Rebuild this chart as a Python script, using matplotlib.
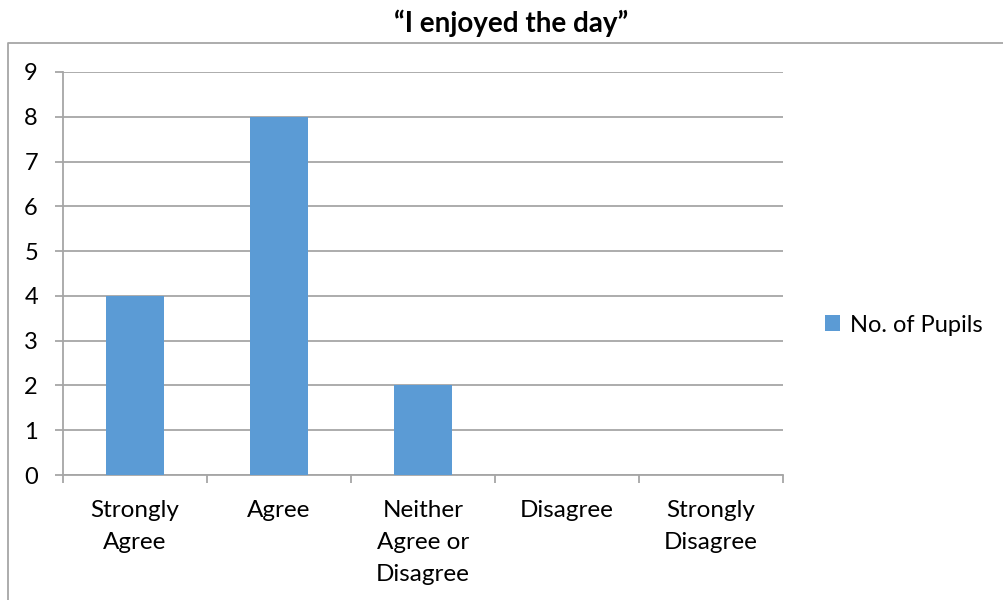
import numpy as np
import matplotlib.pyplot as plt
import matplotlib.ticker as mticker
from matplotlib.lines import Line2D

# survey answers and counts
categories = ["Strongly\nAgree", "Agree", "Neither\nAgree or\nDisagree",
              "Disagree", "Strongly\nDisagree"]
pupils = [4, 8, 2, 0, 0]
y_ticks = list(range(0, 10))
series_name = "No. of Pupils"
title = "\u201cI enjoyed the day\u201d"

bar_color = "#5B9BD5"
grid_color = "#A6A6A6"

plt.rcParams["font.family"] = ["Lato", "DejaVu Sans"]

fig = plt.figure(figsize=(10.04, 6.0), dpi=100)
ax = fig.add_axes([63 / 1004, 125 / 600, 720 / 1004, 403 / 600])

# the bars, Excel style gap width 150%
x = np.arange(len(categories))
ax.bar(x, pupils, width=0.4, color=bar_color, label=series_name, zorder=3)

ax.set_xlim(-0.5, len(categories) - 0.5)
ax.set_ylim(0, 9)
ax.set_yticks(y_ticks)
ax.yaxis.grid(True, color=grid_color, linewidth=1.3, zorder=0)

# labels at centres, tick marks at category boundaries
ax.set_xticks(x)
ax.set_xticklabels(categories, fontsize=17.5, linespacing=1.66, va="top")
ax.xaxis.set_minor_locator(mticker.FixedLocator(np.arange(-0.5, len(categories), 1.0)))
ax.tick_params(axis="x", which="major", length=0, pad=18)
ax.tick_params(axis="x", which="minor", length=6, width=1.3, color=grid_color)
ax.tick_params(axis="y", length=6, width=1.3, color=grid_color, labelsize=17, pad=12)

for side in ["top", "right"]:
    ax.spines[side].set_visible(False)
for side in ["left", "bottom"]:
    ax.spines[side].set_color(grid_color)
    ax.spines[side].set_linewidth(1.3)

# legend on the right
ax.legend(loc="center left", bbox_to_anchor=(825 / 1004, 1 - 325 / 600),
          bbox_transform=fig.transFigure, frameon=False, fontsize=17,
          handlelength=0.65, handleheight=0.65, handletextpad=0.4,
          borderpad=0, borderaxespad=0)

# chart title sits above the chart border
fig.text(511 / 1004, 1 - 23 / 600, title, ha="center", va="center",
         fontsize=20, fontweight="bold")

# chart area border (runs off the right and bottom of the picture)
fig.add_artist(Line2D([8 / 1004, 8 / 1004, 1.0], [0.0, 1 - 43 / 600, 1 - 43 / 600],
                      transform=fig.transFigure, color=grid_color, linewidth=1.3))

fig.savefig("out.png", dpi=100)
